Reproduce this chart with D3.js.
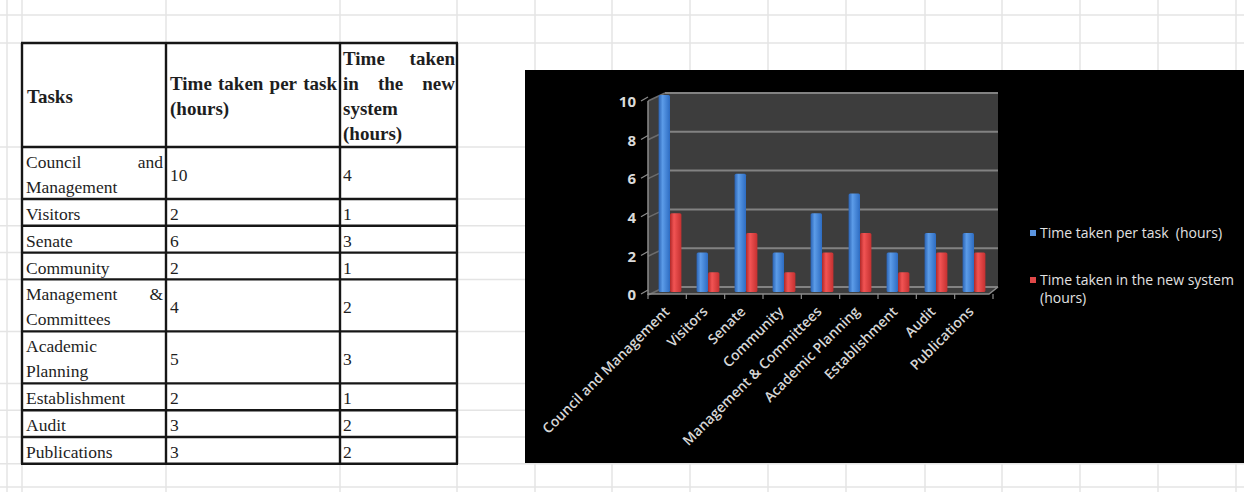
<!DOCTYPE html>
<html><head><meta charset="utf-8">
<script src="https://cdn.jsdelivr.net/npm/d3@7"></script>
<style>body{margin:0;background:#fff}svg{display:block}</style>
</head><body><svg id="c" width="1244" height="492"></svg>
<script>
// ---------- data ----------
const tasks = ["Council and Management","Visitors","Senate","Community","Management & Committees","Academic Planning","Establishment","Audit","Publications"];
const timePerTask = [10,2,6,2,4,5,2,3,3];
const timeNewSystem = [4,1,3,1,2,3,1,2,2];
const seriesNames = ["Time taken per task  (hours)","Time taken in the new system (hours)"];
const yTicks = [0,2,4,6,8,10];
const tableHeader = [["Tasks"],["Time taken per task","(hours)"],["Time taken","in the new","system","(hours)"]];

// ---------- setup ----------
const svg = d3.select("#c");
const W = 1244, H = 492;
const serif = "'Liberation Serif','Times New Roman',serif";
const sans = "'Open Sans','Noto Sans',sans-serif";
const measurer = svg.append("text").attr("visibility","hidden").style("white-space","pre");
function textW(str,size,weight,family){
  measurer.attr("font-family",family).attr("font-size",size).attr("font-weight",weight).text(str);
  return measurer.node().getComputedTextLength();
}
function wrap(str,maxW,size,weight,family){
  const words = str.split(" "); const lines=[]; let cur=null;
  words.forEach(w=>{
    const t = cur!==null ? cur+" "+w : w;
    if (cur && textW(t,size,weight,family) > maxW){ lines.push(cur); cur=w; } else cur=t;
  });
  if (cur) lines.push(cur);
  return lines;
}

// ---------- table layout ----------
const colX = [22,166,340,457];
const bodySize = 17.5, headSize = 19;
const taskLines = tasks.map(t=>wrap(t,132,bodySize,400,serif));
const headerH = 104;
const rowH = taskLines.map(l=> l.length>1 ? 52 : 26.8);
const rowTop = [43+headerH];
rowH.forEach((h,i)=>rowTop.push(rowTop[i]+h));
const tableBottom = rowTop[rowTop.length-1];

// ---------- spreadsheet gridlines ----------
const grid = svg.append("g").attr("stroke","#e4e4e4").attr("stroke-width",1.5);
const hLines = [15,43].concat(rowTop).concat([487]);
const vExtra = [535,612,690,768,846,925,1002,1080,1158,1236];
hLines.forEach(y=>grid.append("line").attr("x1",0).attr("x2",W).attr("y1",y).attr("y2",y));
[7].concat(colX).concat(vExtra).forEach(x=>grid.append("line").attr("x1",x).attr("x2",x).attr("y1",0).attr("y2",H));

// ---------- table ----------
const tbl = svg.append("g");
tbl.append("rect").attr("x",colX[0]).attr("y",43).attr("width",colX[3]-colX[0]).attr("height",tableBottom-43).attr("fill","#fff");

function drawLine(g,str,x0,x1,base,justify,size,weight){
  const words = str.split(" ");
  if (!justify || words.length<2){
    g.append("text").attr("x",x0).attr("y",base).attr("font-family",serif).attr("font-size",size)
      .attr("font-weight",weight).attr("fill","#1e1e1e").text(str);
    return;
  }
  const ws = words.map(w=>textW(w,size,weight,serif));
  const gap = (x1-x0-d3.sum(ws))/(words.length-1);
  let x = x0;
  words.forEach((w,i)=>{
    g.append("text").attr("x",x).attr("y",base).attr("font-family",serif).attr("font-size",size)
      .attr("font-weight",weight).attr("fill","#1e1e1e").text(w);
    x += ws[i]+gap;
  });
}
function drawCell(lines,x0,x1,top,h,size,weight,spacing){
  const c = top + h/2 + 7.5;
  lines.forEach((l,i)=>{
    const base = c + (i-(lines.length-1)/2)*spacing;
    drawLine(tbl,l,x0,x1,base,i<lines.length-1,size,weight);
  });
}
// header
drawCell(tableHeader[0],27,163,43,headerH,headSize,700,25);
drawCell(tableHeader[1],170,337,43,headerH,headSize,700,25);
drawCell(tableHeader[2],343,455,43,headerH,headSize,700,25);
// body
tasks.forEach((t,i)=>{
  drawCell(taskLines[i],26,163,rowTop[i],rowH[i],bodySize,400,25);
  drawCell([String(timePerTask[i])],170,337,rowTop[i],rowH[i],bodySize,400,25);
  drawCell([String(timeNewSystem[i])],343,455,rowTop[i],rowH[i],bodySize,400,25);
});
// borders
const bd = tbl.append("g").attr("stroke","#161616").attr("stroke-width",2.4);
[43].concat(rowTop).forEach(y=>bd.append("line").attr("x1",colX[0]-1).attr("x2",colX[3]+1).attr("y1",y).attr("y2",y));
colX.forEach(x=>bd.append("line").attr("x1",x).attr("x2",x).attr("y1",43).attr("y2",tableBottom));

// ---------- chart ----------
const ch = svg.append("g");
ch.append("rect").attr("x",525).attr("y",70).attr("width",W-525).attr("height",463-70).attr("fill","#000");

const yBar = d3.scaleLinear().domain([0,10]).range([292,95]);
const yWall = d3.scaleLinear().domain([0,10]).range([287,93]);
const yLab = d3.scaleLinear().domain([0,10]).range([295,102]);
const xCat = d3.scaleBand().domain(tasks).range([651,993]).paddingInner(0.4).paddingOuter(0.2);
const xSer = d3.scaleBand().domain([0,1]).range([0,xCat.bandwidth()]);
const xAx = d3.scaleBand().domain(tasks).range([648,993]);

const defs = svg.append("defs");
function grad(id,stops){
  const g = defs.append("linearGradient").attr("id",id).attr("x1","0").attr("x2","1").attr("y1","0").attr("y2","0");
  stops.forEach(s=>g.append("stop").attr("offset",s[0]).attr("stop-color",s[1]));
}
grad("gb",[[0,"#2a63b5"],[0.35,"#5c9ce8"],[1,"#2d6cc2"]]);
grad("gr",[[0,"#b02828"],[0.35,"#f25454"],[1,"#c43030"]]);

// walls
const wall = [[648,yWall(10)+8],[665,yWall(10)],[998,yWall(10)],[998,yWall(0)],[989,294],[648,294]];
ch.append("polygon").attr("points",wall.map(p=>p.join(",")).join(" ")).attr("fill","#3d3d3d");
yTicks.forEach(v=>{
  ch.append("line").attr("x1",665).attr("x2",998).attr("y1",yWall(v)).attr("y2",yWall(v)).attr("stroke","#828282").attr("stroke-width",2);
  ch.append("line").attr("x1",648).attr("x2",665).attr("y1",yWall(v)+8).attr("y2",yWall(v)).attr("stroke","#6c6c6c").attr("stroke-width",1.5);
});
ch.append("line").attr("x1",648).attr("x2",648).attr("y1",yWall(10)+8).attr("y2",295).attr("stroke","#8c8c8c").attr("stroke-width",1.5);
ch.append("polyline").attr("points","648,294 989,294 998,287").attr("fill","none").attr("stroke","#8c8c8c").attr("stroke-width",1.5);

// y axis labels and ticks
yTicks.forEach(v=>{
  ch.append("line").attr("x1",641).attr("x2",648).attr("y1",yLab(v)-1).attr("y2",yLab(v)-5).attr("stroke","#8c8c8c").attr("stroke-width",1.2);
  ch.append("text").attr("x",636).attr("y",yLab(v)).attr("dy","0.35em").attr("text-anchor","end")
    .attr("font-family",sans).attr("font-size",15).attr("font-weight",700).attr("fill","#dadada").text(v);
});
// x ticks
tasks.concat(["__end"]).forEach((c,i)=>{
  const x = i<tasks.length ? xAx(c) : xAx(tasks[tasks.length-1])+xAx.bandwidth();
  ch.append("line").attr("x1",x).attr("x2",x).attr("y1",294).attr("y2",299).attr("stroke","#8c8c8c").attr("stroke-width",1.2);
});

// bars
const series = [timePerTask,timeNewSystem];
const fills = ["url(#gb)","url(#gr)"];
series.forEach((vals,si)=>{
  ch.append("g").selectAll("rect").data(tasks).join("rect")
    .attr("x",(c)=>xCat(c)+xSer(si))
    .attr("y",(c,i)=>yBar(vals[i]))
    .attr("width",xSer.bandwidth())
    .attr("height",(c,i)=>yBar(0)-yBar(vals[i]))
    .attr("rx",1.5)
    .attr("fill",fills[si]);
});

// category labels
tasks.forEach(c=>{
  ch.append("text")
    .attr("transform",`translate(${xCat(c)+xCat.bandwidth()/2-3},309) rotate(-45)`)
    .attr("text-anchor","end").attr("dy","0.35em")
    .attr("font-family",sans).attr("font-size",14).attr("font-weight",600).attr("fill","#d6d6d6").text(c);
});

// legend
const legColors = ["#5b95e0","#e04848"];
const legY = [233,280];
seriesNames.forEach((n,i)=>{
  ch.append("rect").attr("x",1030).attr("y",legY[i]-3).attr("width",6).attr("height",6).attr("fill",legColors[i]);
  const lines = wrap(n,208,14,400,sans);
  lines.forEach((l,j)=>{
    ch.append("text").attr("x",1040).attr("y",legY[i]+j*18).attr("dy","0.35em").style("white-space","pre")
      .attr("font-family",sans).attr("font-size",14).attr("fill","#e2e2e2").text(l);
  });
});
</script></body></html>
